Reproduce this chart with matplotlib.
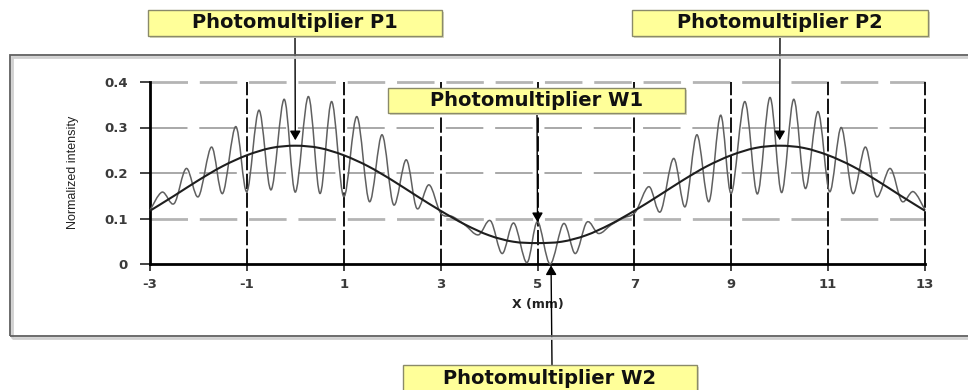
import matplotlib
matplotlib.use("Agg")
import matplotlib.pyplot as plt
from matplotlib.path import Path
from matplotlib.patches import PathPatch, Rectangle
import numpy as np

plt.rcParams['lines.scale_dashes'] = False

# ---------------- data ----------------
env_x = [-3, -2.5, -2, -1.5, -1, -0.5, 0, 0.5, 1, 1.5, 2, 2.5, 3, 3.5, 4, 4.5,
         5, 5.5, 6, 6.5, 7, 7.5, 8, 8.5, 9, 9.5, 10, 10.5, 11, 11.5, 12, 12.5, 13]
env_y = [0.117, 0.150, 0.184, 0.215, 0.239, 0.255, 0.260, 0.255, 0.239, 0.215,
         0.184, 0.150, 0.117, 0.087, 0.063, 0.049, 0.046, 0.049, 0.063, 0.087,
         0.117, 0.150, 0.184, 0.215, 0.239, 0.255, 0.260, 0.255, 0.239, 0.215,
         0.184, 0.150, 0.117]

osc_x = [-3.00, -2.75, -2.50, -2.25, -2.00, -1.73, -1.50, -1.23, -1.00, -0.75,
         -0.50, -0.23, 0.00, 0.27, 0.51, 0.75, 1.00, 1.27, 1.53, 1.79,
         2.03, 2.29, 2.51, 2.76, 3.00, 3.25, 3.50, 3.78, 4.03, 4.27,
         4.51, 4.78, 5.00, 5.26, 5.54, 5.78, 6.02, 6.26, 6.52, 6.77,
         7.02, 7.30, 7.54, 7.81, 8.05, 8.29, 8.54, 8.78, 9.00, 9.28,
         9.54, 9.80, 10.04, 10.29, 10.53, 10.79, 11.03, 11.27, 11.51, 11.77,
         12.00, 12.28, 12.52, 12.76, 13.00]
osc_y = [0.118, 0.158, 0.133, 0.210, 0.148, 0.257, 0.155, 0.302, 0.159, 0.338,
         0.163, 0.362, 0.158, 0.368, 0.155, 0.357, 0.148, 0.324, 0.137, 0.284,
         0.130, 0.229, 0.122, 0.174, 0.112, 0.104, 0.086, 0.064, 0.095, 0.023,
         0.090, 0.003, 0.093, 0.000, 0.089, 0.023, 0.092, 0.067, 0.086, 0.101,
         0.114, 0.170, 0.115, 0.232, 0.126, 0.284, 0.137, 0.327, 0.155, 0.357,
         0.154, 0.366, 0.157, 0.362, 0.166, 0.335, 0.159, 0.300, 0.155, 0.257,
         0.148, 0.210, 0.138, 0.159, 0.119]

x_ticks = [-3, -1, 1, 3, 5, 7, 9, 11, 13]
x_tick_labels = ['-3', '-1', '1', '3', '5', '7', '9', '11', '13']
y_ticks = [0, 0.1, 0.2, 0.3, 0.4]
y_tick_labels = ['0', '0.1', '0.2', '0.3', '0.4']

labels = ['Photomultiplier P1', 'Photomultiplier P2',
          'Photomultiplier W1', 'Photomultiplier W2']
targets_x = [0, 10, 5, 5.28]
targets_y = [0.272, 0.272, 0.092, -0.003]

# ---------------- figure ----------------
W, H = 968, 390
fig = plt.figure(figsize=(W / 100, H / 100), dpi=100)
fig.patch.set_facecolor('white')

def fx(px):
    return px / W

def fy(py):
    return 1 - py / H

# outer frame with soft shadow
fig.patches.append(Rectangle((fx(12), fy(338)), fx(970) - fx(12), fy(57) - fy(338),
                             transform=fig.transFigure, fill=False,
                             edgecolor='#d0d0d0', lw=2.0, zorder=0))
fig.patches.append(Rectangle((fx(10), fy(336)), fx(972) - fx(10), fy(55) - fy(336),
                             transform=fig.transFigure, fill=False,
                             edgecolor='#606060', lw=1.3, zorder=0))

ax = fig.add_axes([fx(150), fy(264), fx(925) - fx(150), fy(82) - fy(264)])
ax.set_xlim(-3, 13)
ax.set_ylim(0, 0.4)
ax.patch.set_alpha(0)
for s in ax.spines.values():
    s.set_visible(False)

# horizontal gridlines
for yv in [0.1, 0.2, 0.3, 0.4]:
    light = yv in (0.1, 0.4)
    ax.plot([-3, 13], [yv, yv], color='#b4b4b4' if light else '#9a9a9a',
            lw=2.0 if light else 1.2, dashes=(27, 8.5), clip_on=False, zorder=1)

# vertical dashed gridlines
for xv in x_ticks[1:]:
    ax.plot([xv, xv], [0, 0.4], color='black', lw=1.3, dashes=(11, 2.5),
            clip_on=False, zorder=2)

# axis lines
ax.plot([-3, -3], [0, 0.4], color='black', lw=2.0, clip_on=False, zorder=3)
ax.plot([-3, 13], [0, 0], color='black', lw=2.0, clip_on=False, zorder=3)


def smooth_path(xs, ys):
    pts = np.column_stack([xs, ys]).astype(float)
    n = len(pts)
    verts = [pts[0]]
    codes = [Path.MOVETO]
    for i in range(n - 1):
        p0 = pts[i - 1] if i > 0 else pts[i]
        p1 = pts[i]
        p2 = pts[i + 1]
        p3 = pts[i + 2] if i + 2 < n else pts[i + 1]
        c1 = p1 + (p2 - p0) / 6.0
        c2 = p2 - (p3 - p1) / 6.0
        verts += [c1, c2, p2]
        codes += [Path.CURVE4] * 3
    return Path(verts, codes)

ax.add_patch(PathPatch(smooth_path(osc_x, osc_y), fill=False, edgecolor='#606060',
                       lw=1.1, transform=ax.transData, clip_on=False, zorder=4))
ax.add_patch(PathPatch(smooth_path(env_x, env_y), fill=False, edgecolor='#1e1e1e',
                       lw=1.5, transform=ax.transData, clip_on=False, zorder=5))

# ticks
ax.set_xticks(x_ticks)
ax.set_xticklabels(x_tick_labels)
ax.set_yticks(y_ticks)
ax.set_yticklabels(y_tick_labels)
ax.tick_params(axis='y', direction='out', length=7, width=1.2, pad=9,
               colors='#222222', labelsize=9.5)
ax.tick_params(axis='x', direction='out', length=5, width=1.2, pad=5,
               colors='#222222', labelsize=9.5)
for lab in ax.get_xticklabels() + ax.get_yticklabels():
    lab.set_fontweight('bold')
    lab.set_color('#3a3a3a')

ax.set_xlabel('X (mm)', fontsize=9, fontweight='bold', color='#222222', labelpad=5)
fig.text(fx(73), fy(172), 'Normalized intensity', rotation=90, ha='center', va='center',
         fontsize=9, family=['Liberation Sans Narrow', 'Liberation Sans', 'DejaVu Sans'],
         fontstretch='condensed', color='#222222')

# label boxes and arrows
boxes = [(148, 10, 294, 26), (632, 10, 296, 26), (388, 88, 297, 25), (403, 365, 294, 27)]
starts = [(295, 36), (780, 36), (537, 113), (552, 365)]
for (bx, by, bw, bh), lab, (sx, sy), tx, ty in zip(boxes, labels, starts, targets_x, targets_y):
    fig.patches.append(Rectangle((fx(bx + 2), fy(by + bh + 2)), bw / W, bh / H,
                                 transform=fig.transFigure, facecolor='#d8d8c0',
                                 edgecolor='none', zorder=6))
    fig.patches.append(Rectangle((fx(bx), fy(by + bh)), bw / W, bh / H,
                                 transform=fig.transFigure, facecolor='#ffff99',
                                 edgecolor='#8a8a6a', lw=1.0, zorder=7))
    fig.text(fx(bx + bw / 2), fy(by + bh / 2), lab, ha='center', va='center',
             fontsize=14, fontweight='heavy', color='#111111', zorder=8)
    ax.annotate('', xy=(tx, ty), xycoords='data',
                xytext=(sx, H - sy), textcoords='figure pixels',
                arrowprops=dict(arrowstyle='-|>,head_length=0.55,head_width=0.32',
                                color='black', lw=1.0, shrinkA=0, shrinkB=0),
                annotation_clip=False, zorder=6)

fig.savefig('out.png', dpi=100)
